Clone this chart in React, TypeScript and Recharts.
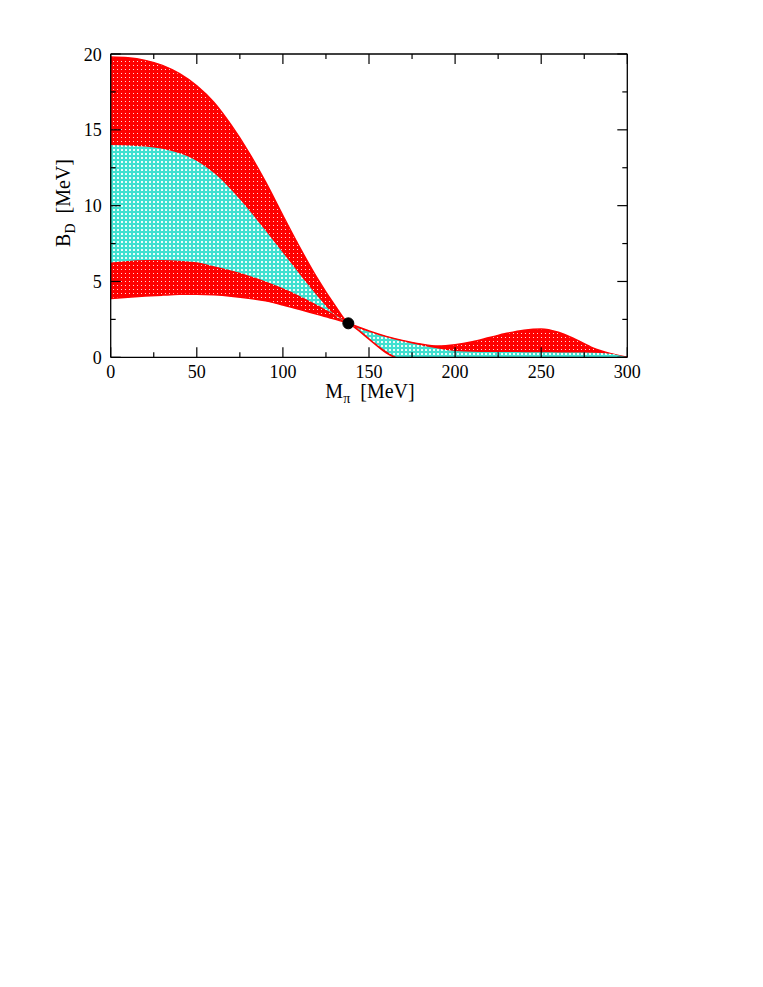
import React from 'react';
import { ComposedChart, Area, XAxis, YAxis, ReferenceDot } from 'recharts';

// pion mass [MeV]
const massPoints = [0, 10, 20, 30, 40, 50, 60, 70, 80, 90, 100, 110, 120, 130, 138, 140, 150, 160, 170, 180, 190, 200, 210, 220, 230, 240, 250, 260, 270, 280, 290, 300];

// outer (red) band edges, B_D [MeV]
const outerSteep = [19.8, 19.75, 19.58, 19.25, 18.7, 17.9, 16.8, 15.3, 13.55, 11.55, 9.35, 7.2, 5.2, 3.45, 2.24, 2.1, 1.2, 0.3, -0.25, -0.6, -0.8, -0.9, -0.9, -0.9, -0.9, -0.9, -0.9, -0.9, -0.9, -0.9, -0.9, -0.9];
const outerFlat = [3.87, 3.96, 4.04, 4.1, 4.15, 4.16, 4.12, 4.03, 3.9, 3.72, 3.45, 3.15, 2.83, 2.52, 2.24, 2.16, 1.74, 1.38, 1.1, 0.88, 0.75, 0.83, 1.02, 1.3, 1.58, 1.79, 1.87, 1.65, 1.18, 0.62, 0.26, 0];

// inner (cyan) band edges
const innerSteep = [14.0, 13.97, 13.9, 13.75, 13.45, 12.95, 12.15, 11.05, 9.75, 8.35, 6.9, 5.45, 4.05, 2.8, 2.24, 2.14, 1.28, 0.4, -0.2, -0.55, -0.8, -0.9, -0.9, -0.9, -0.9, -0.9, -0.9, -0.9, -0.9, -0.9, -0.9, -0.9];
const innerFlat = [6.25, 6.35, 6.41, 6.42, 6.37, 6.26, 6.0, 5.72, 5.4, 5.0, 4.55, 4.03, 3.45, 2.82, 2.24, 2.12, 1.68, 1.32, 1.04, 0.8, 0.58, 0.42, 0.37, 0.35, 0.35, 0.34, 0.33, 0.32, 0.31, 0.3, 0.24, 0];

const xTicks = [0, 25, 50, 75, 100, 125, 150, 175, 200, 225, 250, 275, 300];
const yTicks = [0, 2.5, 5, 7.5, 10, 12.5, 15, 17.5, 20];

const physicalPoint = { m: 138, b: 2.24 };

const rows = massPoints.map((m, i) => ({
  m,
  outer: [outerFlat[i], outerSteep[i]],
  inner: [innerFlat[i], innerSteep[i]],
}));

const FONT = '"Liberation Serif", "Times New Roman", Times, serif';

const BottomTick = (props: any) => {
  const { x, y, payload } = props;
  const major = payload.value % 50 === 0;
  return (
    <g>
      <line x1={x} x2={x} y1={y} y2={y - (major ? 10 : 5)} stroke="#000" strokeWidth={1.2} />
      {major && (
        <text x={x} y={y + 21} textAnchor="middle" style={{ fontFamily: FONT }} fontSize={18} fill="#000">
          {payload.value}
        </text>
      )}
    </g>
  );
};

const TopTick = (props: any) => {
  const { x, y, payload } = props;
  const major = payload.value % 50 === 0;
  return <line x1={x} x2={x} y1={y} y2={y + (major ? 10 : 5)} stroke="#000" strokeWidth={1.2} />;
};

const LeftTick = (props: any) => {
  const { x, y, payload } = props;
  const major = payload.value % 5 === 0;
  return (
    <g>
      <line x1={x} x2={x + (major ? 10 : 5)} y1={y} y2={y} stroke="#000" strokeWidth={1.2} />
      {major && (
        <text x={x - 9} y={y + 6.5} textAnchor="end" style={{ fontFamily: FONT }} fontSize={18} fill="#000">
          {payload.value}
        </text>
      )}
    </g>
  );
};

const RightTick = (props: any) => {
  const { x, y, payload } = props;
  const major = payload.value % 5 === 0;
  return <line x1={x} x2={x - (major ? 10 : 5)} y1={y} y2={y} stroke="#000" strokeWidth={1.2} />;
};

const XTitle = () => (
  <text x={362} y={390} textAnchor="middle" style={{ fontFamily: FONT }} fontSize={20} fill="#000">
    M
    <tspan fontSize={14} dy={5}>π</tspan>
    <tspan dx={10} dy={-5}>[MeV]</tspan>
  </text>
);

const YTitle = () => (
  <text x={62} y={195} transform="rotate(-90, 62, 195)" textAnchor="middle" style={{ fontFamily: FONT }} fontSize={20} fill="#000">
    B
    <tspan fontSize={14} dy={5}>D</tspan>
    <tspan dx={10} dy={-5}>[MeV]</tspan>
  </text>
);

const axisStroke = { stroke: '#000', strokeWidth: 1.3 };

export default function App() {
  return (
    <ComposedChart
      width={747}
      height={420}
      data={rows}
      margin={{ top: 45, right: 126.7, bottom: 69.7, left: 101.7 }}
    >
      <defs>
        <pattern id="redDots" width="4" height="4" patternUnits="userSpaceOnUse">
          <rect width="4" height="4" fill="#ff0000" />
          <rect x="1" y="1" width="1" height="1" fill="#ffffff" opacity="0.85" />
        </pattern>
        <pattern id="cyanGrid" width="4" height="4" patternUnits="userSpaceOnUse">
          <rect width="4" height="4" fill="#40e0d0" />
          <rect x="1" y="1" width="2" height="2" fill="#ffffff" opacity="0.9" />
        </pattern>
      </defs>
      <XAxis
        dataKey="m"
        type="number"
        domain={[0, 300]}
        ticks={xTicks}
        interval={0}
        allowDataOverflow
        height={1}
        tickSize={0}
        tickMargin={0}
        tickLine={false}
        tick={BottomTick}
        axisLine={axisStroke}
        label={{ content: XTitle }}
      />
      <XAxis
        xAxisId="top"
        orientation="top"
        dataKey="m"
        type="number"
        domain={[0, 300]}
        ticks={xTicks}
        interval={0}
        allowDataOverflow
        height={1}
        tickSize={0}
        tickMargin={0}
        tickLine={false}
        tick={TopTick}
        axisLine={axisStroke}
      />
      <YAxis
        type="number"
        domain={[0, 20]}
        ticks={yTicks}
        interval={0}
        allowDataOverflow
        width={1}
        tickSize={0}
        tickMargin={0}
        tickLine={false}
        tick={LeftTick}
        axisLine={axisStroke}
        label={{ content: YTitle }}
      />
      <YAxis
        yAxisId="right"
        orientation="right"
        type="number"
        domain={[0, 20]}
        ticks={yTicks}
        interval={0}
        allowDataOverflow
        width={1}
        tickSize={0}
        tickMargin={0}
        tickLine={false}
        tick={RightTick}
        axisLine={axisStroke}
      />
      <Area
        type="monotone"
        dataKey="outer"
        fill="url(#redDots)"
        fillOpacity={1}
        stroke="#ff0000"
        strokeWidth={1.5}
        dot={false}
        activeDot={false}
        isAnimationActive={false}
      />
      <Area
        type="monotone"
        dataKey="inner"
        fill="url(#cyanGrid)"
        fillOpacity={1}
        stroke="none"
        dot={false}
        activeDot={false}
        isAnimationActive={false}
      />
      <ReferenceDot x={physicalPoint.m} y={physicalPoint.b} r={5.5} fill="#000" stroke="#000" />
    </ComposedChart>
  );
}
